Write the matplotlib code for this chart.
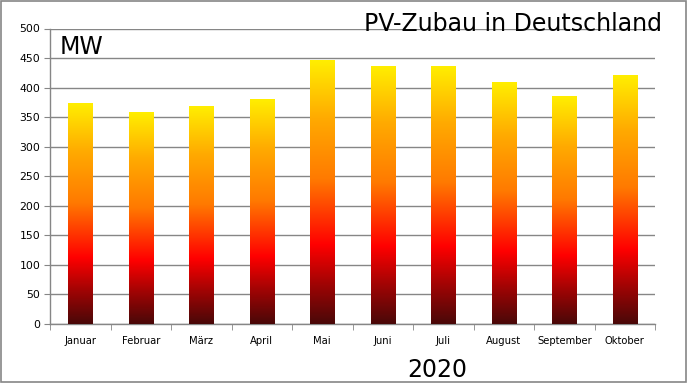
import matplotlib
matplotlib.use("Agg")
import matplotlib.pyplot as plt
import numpy as np
from matplotlib.colors import LinearSegmentedColormap

months = ["Januar", "Februar", "März", "April", "Mai", "Juni", "Juli",
          "August", "September", "Oktober"]
zubau_mw = [373, 358, 368, 380, 446, 436, 436, 409, 385, 420]

# bar gradient, dark red at the bottom to yellow on top (per bar)
fire = LinearSegmentedColormap.from_list("fire", [
    (0.0, "#4a0808"),
    (0.15, "#a00404"),
    (0.30, "#ff0000"),
    (0.55, "#ff7a00"),
    (0.78, "#ffaa00"),
    (1.0, "#ffee00"),
])

fig = plt.figure(figsize=(6.88, 3.83), dpi=100)
ax = fig.add_axes([50 / 688, 1 - 324 / 383, 605 / 688, 295.5 / 383])

x = np.arange(len(months))
bars = ax.bar(x, zubau_mw, width=0.4, color="none", zorder=3)

grad = np.linspace(0, 1, 256).reshape(-1, 1)
for b in bars:
    x0, w, h = b.get_x(), b.get_width(), b.get_height()
    ax.imshow(grad, cmap=fire, origin="lower", aspect="auto",
              extent=(x0, x0 + w, 0, h), zorder=3, interpolation="bilinear")

ax.set_xlim(-0.5, len(months) - 0.5)
ax.set_ylim(0, 500)
ax.set_yticks(np.arange(0, 501, 50))
ax.yaxis.grid(True, color="#868686", linewidth=1.0)
ax.set_axisbelow(True)

ax.set_xticks(x)
ax.set_xticklabels(months, fontsize=7.2)
ax.set_xticks(np.arange(-0.5, len(months), 1), minor=True)
ax.tick_params(axis="x", which="major", length=0, pad=9)
ax.tick_params(axis="x", which="minor", length=4, color="#868686")
ax.tick_params(axis="y", labelsize=7.8, length=4, color="#868686", pad=3)

for side in ["top", "right"]:
    ax.spines[side].set_visible(False)
for side in ["left", "bottom"]:
    ax.spines[side].set_color("#868686")
    ax.spines[side].set_linewidth(1.0)

fig.text(662 / 688, 1 - 31 / 383, "PV-Zubau in Deutschland", fontsize=17,
         ha="right", va="baseline")
fig.text(60 / 688, 1 - 54 / 383, "MW", fontsize=17, ha="left", va="baseline")
fig.text(437 / 688, 1 - 377 / 383, "2020", fontsize=17, ha="center",
         va="baseline")

# gray frame around the whole picture
fig.patches.append(plt.Rectangle((0.002, 0.003), 0.995, 0.994,
                                 transform=fig.transFigure, fill=False,
                                 edgecolor="#868686", linewidth=1.2))

fig.savefig("out.png", dpi=100)
